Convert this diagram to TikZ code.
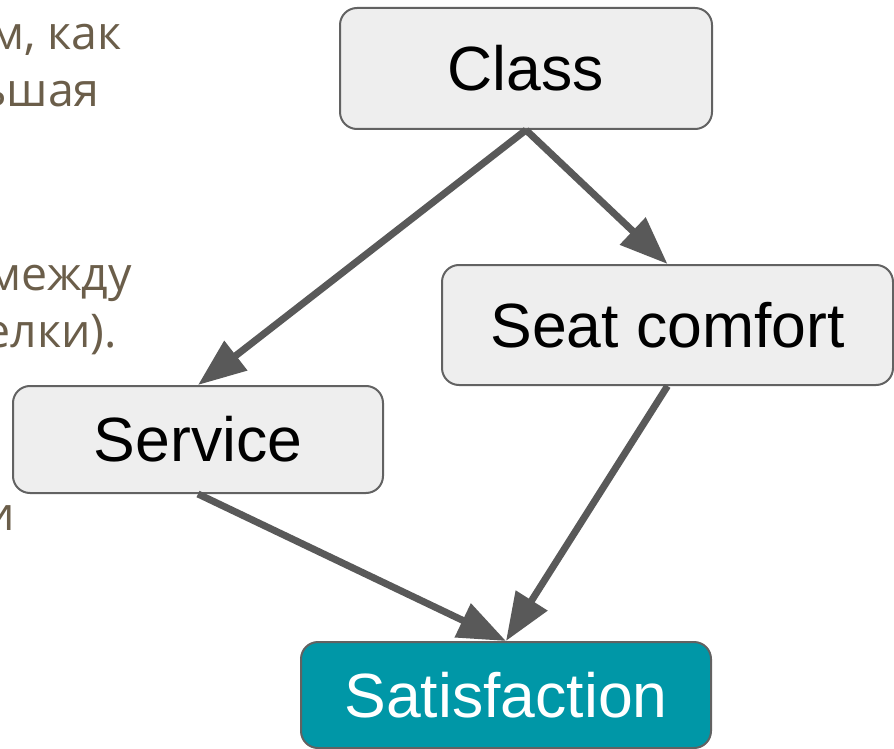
\documentclass[tikz,border=0pt]{standalone}
\usepackage{fontspec}
\setmainfont{Liberation Sans}
\newfontfamily\notefont{Open Sans}
\usetikzlibrary{arrows.meta}

\definecolor{boxfill}{HTML}{EEEEEE}
\definecolor{boxline}{HTML}{626262}
\definecolor{arrowgray}{HTML}{595959}
\definecolor{tealfill}{HTML}{0097A7}
\definecolor{notebrown}{HTML}{6B5E4A}

\tikzset{
  factor/.style={draw=boxline, line width=2pt, fill=boxfill, rounded corners=17pt,
    inner sep=0pt, font=\fontsize{62.5}{70}\selectfont, text=black},
  outcome/.style={factor, fill=tealfill, text=white},
  link/.style={draw=arrowgray, line width=7pt,
    -{Triangle[length=48pt,width=36pt]}},
  note/.style={anchor=base east, inner sep=0pt, text=notebrown,
    font=\notefont\fontsize{46.5}{57}\selectfont}
}

\begin{document}
\begin{tikzpicture}[x=1pt,y=-1pt]
  \useasboundingbox (0,0) rectangle (894,749);
  \clip (0,0) rectangle (894,749);

  % fragments of the paragraph text on the left
  \node[note] (t1) at (122,50)  {м, как};
  \node[note] (t2) at (100,107) {ьшая};
  \node[note] (t3) at (132,290) {между};
  \node[note] (t4) at (117,347) {елки).};
  \node[note] (t5) at (15,530)  {и};

  % causal graph
  \node[factor, minimum width=372pt, minimum height=121pt] (cls)  at (526,68.5)  {Class};
  \node[factor, minimum width=451pt, minimum height=120pt] (seat) at (667.5,325) {Seat comfort};
  \node[factor, minimum width=370pt, minimum height=107pt] (svc)  at (198,439.5) {Service};
  \node[outcome, minimum width=410pt, minimum height=106pt] (sat) at (506,695)   {Satisfaction};

  \draw[link] (cls.south)  -- (svc.north);
  \draw[link] (cls.south)  -- (seat.north);
  \draw[link] (svc.south)  -- (sat.north);
  \draw[link] (seat.south) -- (sat.north);
\end{tikzpicture}
\end{document}
